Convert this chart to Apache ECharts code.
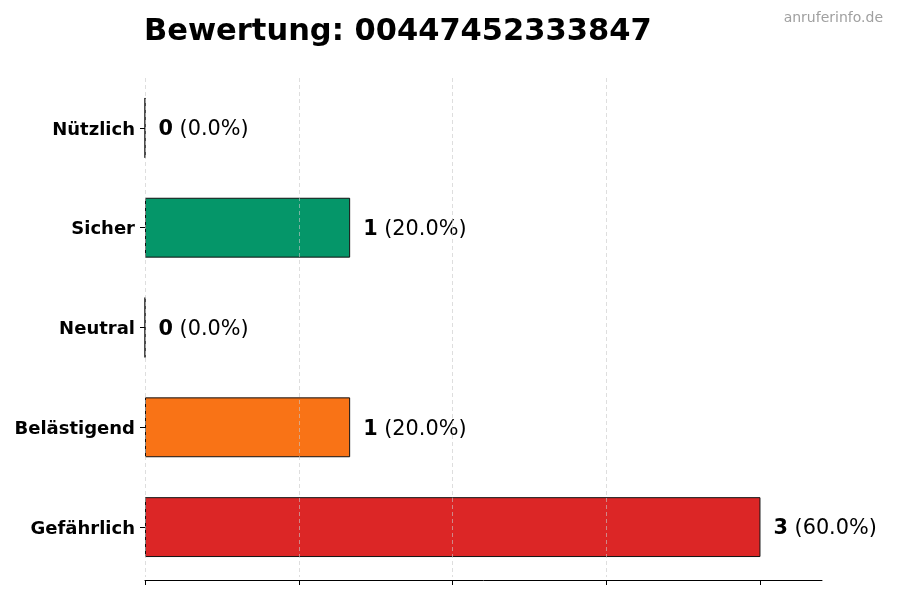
<!DOCTYPE html>
<html>
<head>
<meta charset="utf-8">
<script src="https://cdn.jsdelivr.net/npm/echarts@6/dist/echarts.min.js"></script>
<style>
html,body{margin:0;padding:0;background:#fff;}
#chart{width:900px;height:600px;}
</style>
</head>
<body>
<div id="chart"></div>
<script>
// Data (bottom to top)
var categories = ['Gefährlich', 'Belästigend', 'Neutral', 'Sicher', 'Nützlich'];
var counts = [3, 1, 0, 1, 0];
var percents = ['60.0%', '20.0%', '0.0%', '20.0%', '0.0%'];
var colors = ['#dc2626', '#f97316', '#9ca3af', '#059669', '#3b82f6'];
var xTicks = [0, 0.75, 1.5, 2.25, 3];
var titleText = 'Bewertung: 00447452333847';
var watermark = 'anruferinfo.de';

var FONT = '"DejaVu Sans", sans-serif';
var chart = echarts.init(document.getElementById('chart'), null, {renderer: 'canvas'});

var seriesData = counts.map(function (v, i) {
  return {
    value: v,
    pct: percents[i],
    itemStyle: {color: colors[i], borderColor: '#111', borderWidth: 1}
  };
});

chart.setOption({
  animation: false,
  backgroundColor: '#fff',
  title: [{
    text: titleText,
    left: 139,
    top: 12,
    textStyle: {fontFamily: FONT, fontSize: 30.5, fontWeight: 'bold', color: '#000'}
  }, {
    text: watermark,
    right: 12,
    top: 6,
    textStyle: {fontFamily: FONT, fontSize: 14, fontWeight: 'normal', color: '#a0a0a0'}
  }],
  grid: {left: 145, right: 78, top: 78, bottom: 23, containLabel: false},
  xAxis: {
    type: 'value',
    min: 0,
    max: 3.3,
    interval: 0.75,
    z: 5,
    offset: 3,
    axisLine: {show: true, lineStyle: {color: '#000', width: 1}},
    axisTick: {show: true, length: 5, lineStyle: {color: '#000'}, customValues: xTicks},
    axisLabel: {show: false},
    splitLine: {show: true, showMaxLine: false, lineStyle: {color: 'rgba(200,200,200,0.6)', type: [4, 3], width: 1}}
  },
  yAxis: {
    type: 'category',
    data: categories,
    axisLine: {show: false},
    axisTick: {show: true, alignWithLabel: true, length: 5, lineStyle: {color: '#000'}},
    axisLabel: {
      margin: 10,
      formatter: function (v) { return '{c|' + v + '}'; },
      rich: {
        c: {fontFamily: FONT, fontSize: 18, fontWeight: 'bold', color: '#000', padding: [4, 0, 0, 0]}
      }
    },
    splitLine: {show: false}
  },
  series: [{
    type: 'bar',
    data: seriesData,
    barWidth: '60%',
    label: {
      show: true,
      position: 'right',
      distance: 13,
      offset: [0, 2],
      formatter: function (p) {
        return '{b|' + p.value + '}{n| (' + p.data.pct + ')}';
      },
      rich: {
        b: {fontFamily: FONT, fontSize: 20.8, fontWeight: 'bold', color: '#000'},
        n: {fontFamily: FONT, fontSize: 20.8, fontWeight: 'normal', color: '#000'}
      }
    }
  }]
});
</script>
</body>
</html>
